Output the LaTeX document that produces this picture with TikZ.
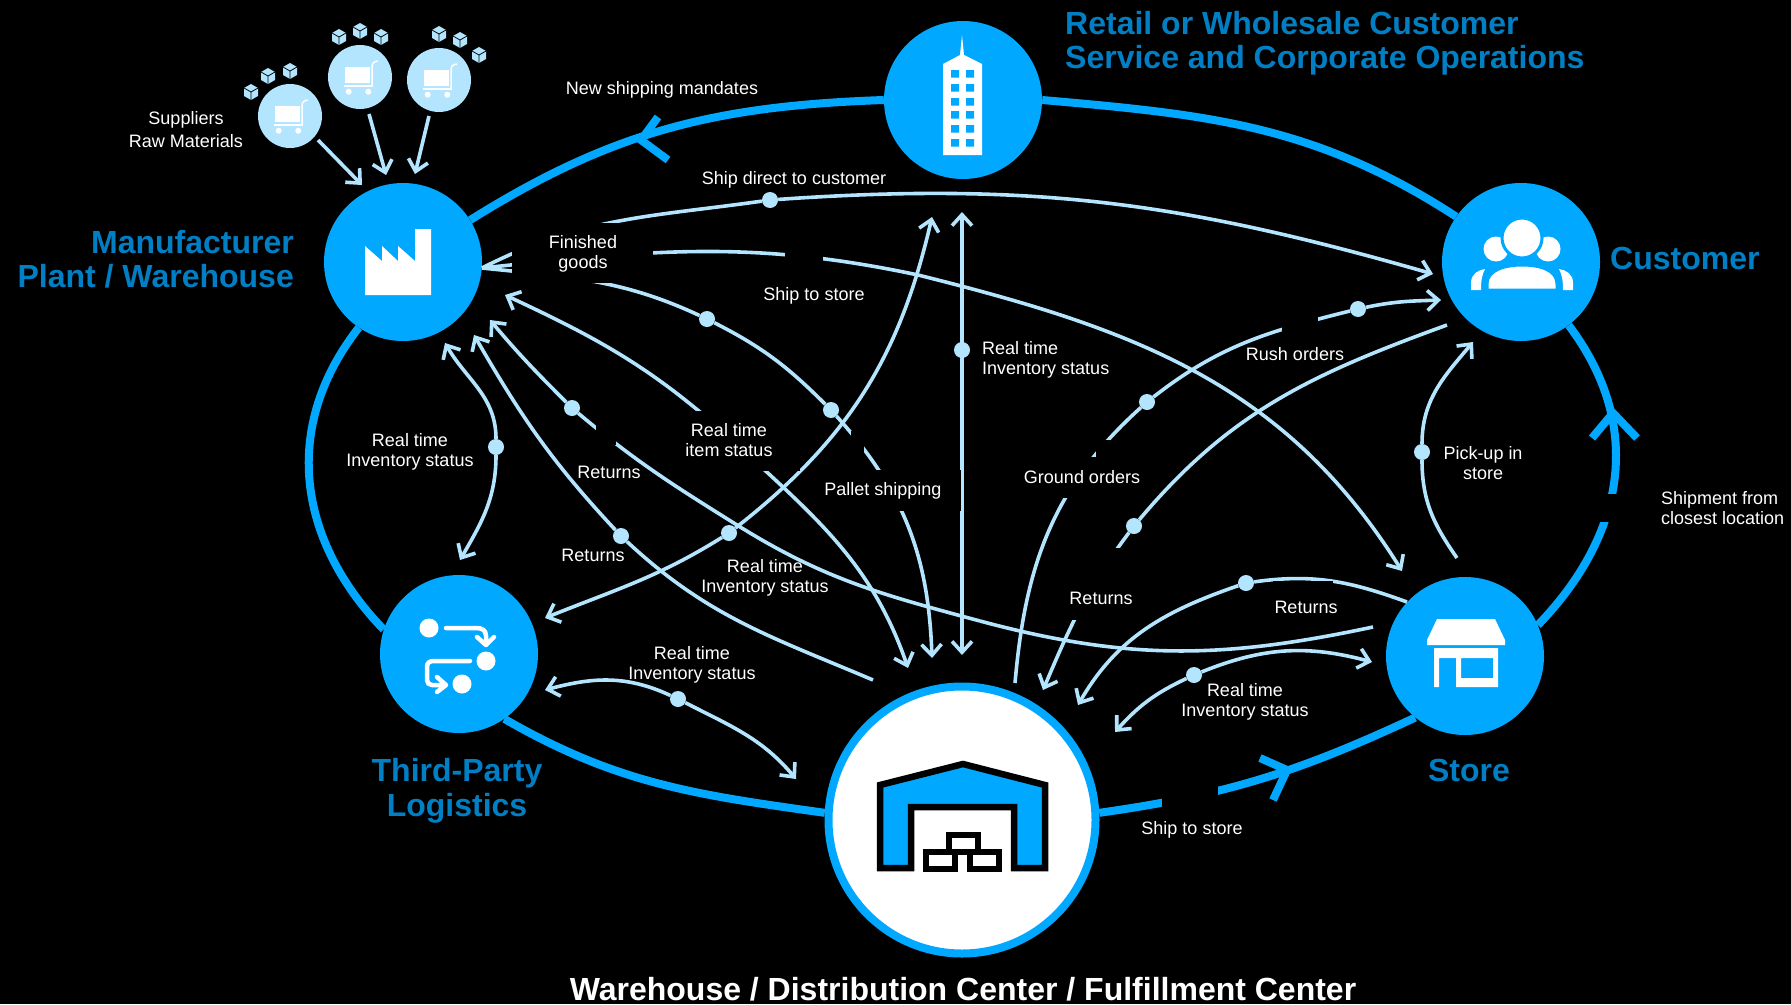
\documentclass[tikz,border=0pt]{standalone}
\usepackage{fontspec}
\setmainfont{Liberation Sans}
\usetikzlibrary{arrows.meta,positioning,calc}
\definecolor{flow}{HTML}{00A8FF}
\definecolor{pale}{HTML}{B3E5FF}
\definecolor{head}{HTML}{007FC4}

\begin{document}
\begin{tikzpicture}
   [x=1pt,y=-1pt,
      actor/.style={shape=circle,fill=flow,inner sep=0pt,minimum size=158pt},
      supplier/.style={shape=circle,fill=pale,inner sep=0pt,minimum size=64pt},
      junction/.style={shape=circle,fill=pale,inner sep=0pt,minimum size=16pt},
      lbl/.style={text=white,align=center,inner sep=0pt,font=\fontsize{18}{20.5}\selectfont},
      ttl/.style={text=head,inner sep=0pt,font=\fontsize{32}{34.5}\selectfont\bfseries},
      ring/.style={line width=8pt,flow},
      link/.style={line width=3.6pt,pale,>={Straight Barb[length=11pt,width=20pt]}},
      mask/.style={fill=black},
      icon/.style={fill=white},
      cart/.pic={
        \fill[white] (-14.7,-10) rectangle (9.7,5.7);
        \draw[white,line width=1.5pt] (-16.3,9) -- (13,9);
        \draw[white,line width=1.5pt] (12,9) -- (12,-10) .. controls (12,-14) and (14,-15.5) .. (18,-16);
        \fill[white] (-11.3,14.7) circle (3) (8.3,14.7) circle (3);
      },
      cube/.pic={
        \fill[pale] (0,-8) -- (7,-4) -- (7,4) -- (0,8) -- (-7,4) -- (-7,-4) -- cycle;
        \draw[black,line width=.8pt] (-7,-4) -- (0,0) -- (7,-4) (0,0) -- (0,8);
      }]
\useasboundingbox (0,0) rectangle (1791,1004);
\fill[black] (0,0) rectangle (1791,1004);
%%
\node (mfr) [actor] at (403,262) {};
\node (retail) [actor] at (963,100) {};
\node (cust) [actor] at (1521,262) {};
\node (store) [actor] at (1465,656) {};
\node (tpl) [actor] at (459,654) {};
\node (dc) [shape=circle,draw=flow,fill=white,line width=8pt,inner sep=0pt,minimum size=267pt] at (962,820) {};
\node (sup1) [supplier] at (290,116) {};
\node (sup2) [supplier] at (360,77) {};
\node (sup3) [supplier] at (439,80) {};
%%
%% main loop
\path (retail.180) edge[ring,out=182,in=32] (mfr.32);
\path (retail.0) edge[ring,out=-5,in=147] (cust.145);
\path (cust.-53) edge[ring,out=-53,in=46,looseness=1.07] (store.23);
\path (store.231) edge[ring,out=205,in=8] (dc.3);
\path (tpl.-55) edge[ring,out=-30,in=172] (dc.177);
\path (mfr.236) edge[ring,out=232,in=134,looseness=1.06] (tpl.162);
\draw[ring] (658,117) -- (641,140) -- (668,160);
\draw[ring] (1592,438) -- (1613,413) -- (1637,438);
\draw[ring] (1260,758) -- (1287,770) -- (1273,800);
%%
%% ends of the links
\coordinate (fan) at (482,268);
\coordinate (custa) at (1433,274);
\coordinate (custb) at (1441,300);
\coordinate (custc) at (1447,325);
\coordinate (custd) at (1473,342);
\coordinate (sts) at (918,275);
\coordinate (stsend) at (1402,571);
\coordinate (palend) at (932,658);
\coordinate (itmbeg) at (505,295);
\coordinate (itmmid) at (730,438);
\coordinate (itmend) at (908,668);
\coordinate (retbeg) at (490,320);
\coordinate (retmid) at (737,525);
\coordinate (retlow) at (980,621);
\coordinate (retend) at (1373,627);
\coordinate (lowbeg) at (474,335);
\coordinate (lowend) at (873,680);
\coordinate (invtop) at (932,217);
\coordinate (invend) at (545,618);
\coordinate (vtop) at (962,212);
\coordinate (vbot) at (962,655);
\coordinate (lefta) at (445,343);
\coordinate (leftb) at (460,560);
\coordinate (tpla) at (545,690);
\coordinate (tplb) at (796,779);
\coordinate (gndbeg) at (1015,683);
\coordinate (crend) at (1043,690);
\coordinate (srbeg) at (1407,602);
\coordinate (srend) at (1078,705);
\coordinate (sia) at (1372,662);
\coordinate (sib) at (1115,732);
\coordinate (pickbeg) at (1457,558);
\coordinate (s1a) at (318,140);
\coordinate (s1b) at (362,185);
\coordinate (s2a) at (369,114);
\coordinate (s2b) at (386,175);
\coordinate (s3a) at (429,116);
\coordinate (s3b) at (415,174);
%%
\node (dship) [junction] at (770,200) {};
\node (dpala) [junction] at (707,319) {};
\node (dpalb) [junction] at (831,410) {};
\node (dreta) [junction] at (572,408) {};
\node (dretb) [junction] at (621,536) {};
\node (dinv) [junction] at (729,533) {};
\node (dvert) [junction] at (962,350) {};
\node (dleft) [junction] at (496,447) {};
\node (dtpl) [junction] at (678,699) {};
\node (dgnd) [junction] at (1147,402) {};
\node (drush) [junction] at (1358,309) {};
\node (dcret) [junction] at (1134,526) {};
\node (dsret) [junction] at (1246,583) {};
\node (dsinv) [junction] at (1194,675) {};
\node (dpick) [junction] at (1422,452) {};
%%
%% links
\path (s1a) edge[link,->] (s1b);
\path (s2a) edge[link,->] (s2b);
\path (s3a) edge[link,->] (s3b);
\path (fan) edge[link,out=27,in=188] (dship);
\path (dship) edge[link,->,out=4,in=164] (custa);
\path (fan) edge[link,out=6,in=168] (sts);
\path (sts) edge[link,->,out=-14,in=122] (stsend);
\path (fan) edge[link,out=-6,in=155] (dpala);
\path (dpala) edge[link,out=-27,in=135] (dpalb);
\path (dpalb) edge[link,->,out=-48,in=92] (palend);
\path (itmend) edge[link,<-,out=109,in=-43] (itmmid);
\path (itmmid) edge[link,->,out=138,in=-25] (itmbeg);
\path (dreta) edge[link,->,out=135,in=-50] (retbeg);
\path (dreta) edge[link,out=-40,in=148] (retmid);
\path (retmid) edge[link,out=-32,in=165] (retlow);
\path (retlow) edge[link,out=-15,in=192] (retend);
\path (dretb) edge[link,->,out=133,in=-60] (lowbeg);
\path (dretb) edge[link,out=-43,in=157] (lowend);
\path (dinv) edge[link,->,out=38,in=-103] (invtop);
\path (dinv) edge[link,->,out=212,in=22] (invend);
\path (vtop) edge[link,<->] (vbot);
\path (dleft) edge[link,->,out=90,in=-60] (lefta);
\path (dleft) edge[link,->,out=-90,in=60] (leftb);
\path (dtpl) edge[link,->,out=155,in=15] (tpla);
\path (dtpl) edge[link,->,out=-27,in=130] (tplb);
\path (gndbeg) edge[link,out=85,in=-138] (dgnd);
\path (dgnd) edge[link,out=38,in=194] (drush);
\path (drush) edge[link,->,out=12,in=182] (custb);
\path (custc) edge[link,out=200,in=50] (dcret);
\path (dcret) edge[link,->,out=-127,in=67] (crend);
\path (srbeg) edge[link,out=160,in=8] (dsret);
\path (dsret) edge[link,->,out=199,in=60] (srend);
\path (sia) edge[link,<-,out=165,in=22] (dsinv);
\path (dsinv) edge[link,->,out=205,in=48] (sib);
\path (pickbeg) edge[link,out=125,in=-90] (dpick);
\path (dpick) edge[link,->,out=90,in=-130] (custd);
%%
%% blanked parts of the lines
\fill[mask] (512,223) rectangle (653,283);
\fill[mask] (785,240) rectangle (823,262);
\fill[mask] (596,425) rectangle (616,445);
\fill[mask] (680,411) rectangle (800,471);
\fill[mask] (851,431) rectangle (864,455);
\fill[mask] (824,470) rectangle (961,511);
\fill[mask] (1030,457) rectangle (1150,498);
\fill[mask] (1096,440) rectangle (1116,460);
\fill[mask] (1282,315) rectangle (1318,335);
\fill[mask] (1060,548) rectangle (1140,620);
\fill[mask] (1273,581) rectangle (1333,620);
\fill[mask] (1596,494) rectangle (1650,522);
\fill[mask] (1162,780) rectangle (1218,820);
%%
%% labels
\node (lmand) [lbl] at (662,90) {New shipping mandates};
\node (lsup) [lbl,font=\fontsize{18}{23}\selectfont] at (186,130) {Suppliers\\Raw Materials};
\node (lship) [lbl] at (794,180) {Ship direct to customer};
\node (lfin) [lbl] at (583,254) {Finished\\goods};
\node (lsts) [lbl] at (814,296) {Ship to store};
\node (litem) [lbl] at (729,440) {Real time\\item status};
\node (lret) [lbl] at (609,472) {Returns};
\node (lrett) [lbl] at (593,555) {Returns};
\node (lpal) [lbl] at (883,491) {Pallet shipping};
\node (linva) [lbl] at (410,452) {Real time\\Inventory status};
\node (linvb) [lbl] at (765,578) {Real time\\Inventory status};
\node (linvc) [lbl] at (692,665) {Real time\\Inventory status};
\node (linvd) [lbl,anchor=west,align=left] at (982,360) {Real time\\Inventory status};
\node (linve) [lbl] at (1245,702) {Real time\\Inventory status};
\node (lgnd) [lbl] at (1082,477) {Ground orders};
\node (lrush) [lbl] at (1295,354) {Rush orders};
\node (lretc) [lbl] at (1101,598) {Returns};
\node (lretd) [lbl] at (1306,607) {Returns};
\node (lpick) [lbl] at (1483,463) {Pick-up in\\store};
\node (lclose) [lbl,anchor=west,align=left] at (1661,508) {Shipment from\\closest location};
\node (lstsb) [lbl] at (1192,830) {Ship to store};
%%
\node (tmfr) [ttl,anchor=east,align=right] at (294,259) {Manufacturer\\Plant / Warehouse};
\node (tretail) [ttl,anchor=west,align=left] at (1065,43) {Retail or Wholesale Customer\\Service and Corporate Operations};
\node (tcust) [ttl,anchor=west] at (1610,258) {Customer};
\node (ttpl) [ttl,align=center] at (457,791) {Third-Party\\Logistics};
\node (tstore) [ttl] at (1469,770) {Store};
\node (tdc) [ttl,text=white] at (963,989) {Warehouse / Distribution Center / Fulfillment Center};
%%
%% suppliers
\foreach \nm in {sup1,sup2,sup3} \pic at (\nm) {cart};
\foreach \cx/\cy in {251/92,268/76,290/71,339/37,360/31,381/37,439/34,460/40,479/55}
  \pic at (\cx,\cy) {cube};
%%
%% factory
\fill[icon] (365,295) -- (365,246) -- (382,261) -- (382,246) -- (398,261) -- (398,246) -- (415,261)
  -- (415,229) -- (431,229) -- (431,295) -- cycle;
%%
%% building
\fill[icon] (943,155) -- (943,64) -- (960,55) -- (962,35) -- (964,55) -- (982,64) -- (982,155) -- cycle;
\foreach \wy in {70,84,98,111,125,139}
  \fill[flow] (951,\wy) rectangle +(8,7.5) (966,\wy) rectangle +(8,7.5);
%%
%% people
\fill[icon] (1496,249) circle (12.5) (1548,249) circle (12.5);
\filldraw[icon,draw=flow,line width=3pt] (1522,238) circle (20);
\filldraw[icon,draw=flow,line width=3pt] (1487,290) -- (1487,284) .. controls (1487,270) and (1505,265) .. (1522,265)
  .. controls (1540,265) and (1557,270) .. (1557,284) -- (1557,290) -- cycle;
\fill[icon] (1471,290) -- (1471,283) .. controls (1471,274) and (1478,270) .. (1485,269)
  .. controls (1482,275) and (1481,280) .. (1481,290) -- cycle;
\fill[icon] (1573,290) -- (1573,283) .. controls (1573,274) and (1566,270) .. (1559,269)
  .. controls (1562,275) and (1563,280) .. (1563,290) -- cycle;
%%
%% shop
\fill[icon] (1437,619) -- (1495,619) -- (1505,640) -- (1505,645) -- (1427,645) -- (1427,640) -- cycle;
\fill[icon,even odd rule] (1434,687) -- (1434,648) -- (1498,648) -- (1498,687) -- (1456,687) -- (1456,658)
  -- (1439,658) -- (1439,687) -- cycle (1461,658) rectangle (1493,678);
%%
%% flow chart
\fill[icon] (429,628) circle (9.5) (486,661) circle (9.5) (462,684) circle (9.5);
\draw[white,line width=4.5pt,line cap=round,line join=round] (446,628) -- (476,628) .. controls (482,628) and (486,630) .. (486,636) -- (486,643)
  (477,637) -- (486,645) -- (494,637);
\draw[white,line width=4.5pt,line cap=round,line join=round] (470,661) -- (434,661) .. controls (429,661) and (427,663) .. (427,667) -- (427,680)
  .. controls (427,683) and (429,685) .. (432,685) -- (445,685) (437,677) -- (446,685) -- (437,692);
%%
%% warehouse
\filldraw[fill=flow,draw=black,line width=6.5pt,miter limit=10] (880,868) -- (880,785) -- (963,764) -- (1045,785)
  -- (1045,868) -- (1014,868) -- (1014,807) -- (911,807) -- (911,868) -- cycle;
\foreach \bx/\by in {949/835,926/852,970/852}
  \filldraw[fill=white,draw=black,line width=6.5pt] (\bx,\by) rectangle +(29,17);
\end{tikzpicture}
\end{document}
